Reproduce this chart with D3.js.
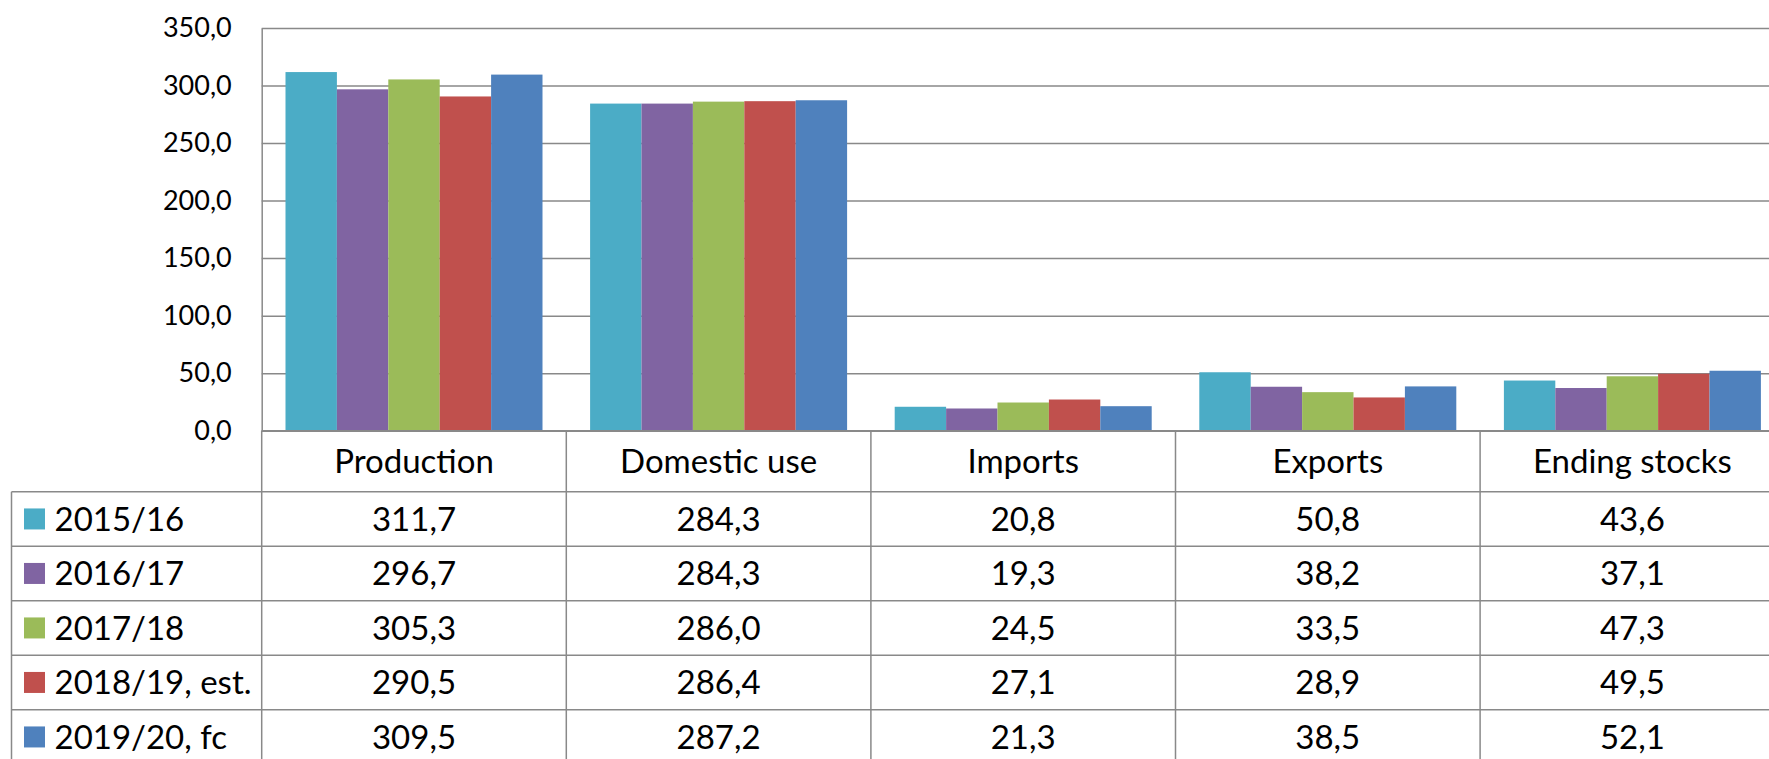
<!DOCTYPE html>
<html>
<head>
<meta charset="utf-8">
<script src="https://cdn.jsdelivr.net/npm/d3@7"></script>
<style>
  html, body { margin: 0; padding: 0; background: #fff; overflow: hidden; }
  svg { display: block; }
  text { font-family: Lato, "Noto Sans", sans-serif; fill: #000; }
</style>
</head>
<body>
<script>
const categories = ["Production", "Domestic use", "Imports", "Exports", "Ending stocks"];
const seriesNames = ["2015/16", "2016/17", "2017/18", "2018/19, est.", "2019/20, fc"];
const values2015 = [311.7, 284.3, 20.8, 50.8, 43.6];
const values2016 = [296.7, 284.3, 19.3, 38.2, 37.1];
const values2017 = [305.3, 286.0, 24.5, 33.5, 47.3];
const values2018 = [290.5, 286.4, 27.1, 28.9, 49.5];
const values2019 = [309.5, 287.2, 21.3, 38.5, 52.1];
const colors = ["#4BACC6", "#8064A2", "#9BBB59", "#C0504D", "#4F81BD"];
const yTicks = [0, 50, 100, 150, 200, 250, 300, 350];

const seriesValues = [values2015, values2016, values2017, values2018, values2019];
const series = seriesNames.map((name, i) => ({ name, color: colors[i], values: seriesValues[i] }));

const W = 1769, H = 759;
const plotLeft = 261.7, plotTop = 28, plotBottom = 430.7;
const colW = 304.6;
const plotRight = plotLeft + colW * categories.length;
const headerH = 61, rowH = 54.5;
const tableLeft = 11.5;
const gridColor = "#898989";
const fmt = v => d3.format(".1f")(v).replace(".", ",");

const svg = d3.select("body").append("svg").attr("width", W).attr("height", H);

const y = d3.scaleLinear().domain([0, 350]).range([plotBottom, plotTop]);
const x0 = d3.scaleBand().domain(categories).range([plotLeft, plotRight]).padding(0);
const innerPad = 23.8;
const x1 = d3.scaleBand().domain(seriesNames).range([innerPad, colW - innerPad]).padding(0);

// Y axis with gridlines
const yAxis = svg.append("g")
  .attr("transform", `translate(${plotLeft},0)`)
  .call(d3.axisLeft(y).tickValues(yTicks).tickFormat(fmt)
    .tickSizeInner(-(plotRight - plotLeft)).tickSizeOuter(0).tickPadding(30));
yAxis.selectAll("line").attr("stroke", gridColor).attr("stroke-width", 1.5);
yAxis.select(".domain").attr("stroke", gridColor).attr("stroke-width", 1.5);
yAxis.selectAll("text").style("font-family", "Lato, 'Noto Sans', sans-serif")
  .style("font-size", "27px").attr("fill", "#000");

// Bars
const groups = svg.append("g").selectAll("g").data(series).join("g")
  .attr("fill", d => d.color);
groups.selectAll("rect")
  .data(s => s.values.map((v, i) => ({ name: s.name, cat: categories[i], v })))
  .join("rect")
  .attr("x", d => x0(d.cat) + x1(d.name))
  .attr("width", x1.bandwidth())
  .attr("y", d => y(d.v))
  .attr("height", d => y(0) - y(d.v));

// Data table
const table = svg.append("g");
const rowsTop = plotBottom + headerH;
const tableBottom = rowsTop + rowH * series.length;
table.append("line").attr("x1", plotLeft).attr("x2", plotRight)
  .attr("y1", plotBottom).attr("y2", plotBottom);
for (let i = 0; i <= series.length; i++) {
  table.append("line").attr("x1", tableLeft).attr("x2", plotRight)
    .attr("y1", rowsTop + i * rowH).attr("y2", rowsTop + i * rowH);
}
table.append("line").attr("x1", tableLeft).attr("x2", tableLeft)
  .attr("y1", rowsTop).attr("y2", tableBottom);
for (let i = 0; i <= categories.length; i++) {
  const xx = plotLeft + i * colW;
  table.append("line").attr("x1", xx).attr("x2", xx)
    .attr("y1", plotBottom).attr("y2", tableBottom);
}
table.selectAll("line").attr("stroke", gridColor).attr("stroke-width", 1.5);

const fs = 33;
const capOff = fs * 0.36;
table.selectAll("text.hdr").data(categories).join("text").attr("class", "hdr")
  .attr("x", d => x0(d) + colW / 2)
  .attr("y", plotBottom + headerH / 2 + capOff)
  .attr("text-anchor", "middle").style("font-size", fs + "px")
  .text(d => d);

series.forEach((s, r) => {
  const cy = rowsTop + r * rowH + rowH / 2;
  table.append("rect").attr("x", 24).attr("y", cy - 10.5).attr("width", 21).attr("height", 21)
    .attr("fill", s.color);
  table.append("text").attr("x", 54.5).attr("y", cy + capOff)
    .style("font-size", fs + "px").text(s.name);
  s.values.forEach((v, i) => {
    table.append("text").attr("x", x0(categories[i]) + colW / 2).attr("y", cy + capOff)
      .attr("text-anchor", "middle").style("font-size", fs + "px").text(fmt(v));
  });
});
</script>
</body>
</html>
